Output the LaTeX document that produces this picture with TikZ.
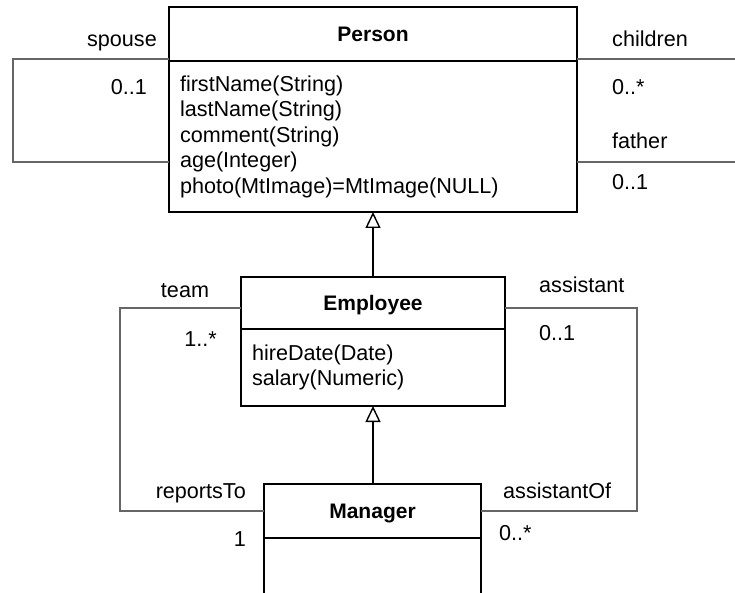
\documentclass[tikz,border=0pt]{standalone}
\usepackage{fontspec}
\setmainfont{Liberation Sans}
\usetikzlibrary{arrows.meta}

\tikzset{
  txt/.style={font=\fontsize{21.6}{25.5}\selectfont},
  classhead/.style={draw=black, line width=1.5pt, inner sep=0pt, outer sep=0pt,
    anchor=north west, font=\fontsize{21}{25.5}\selectfont\bfseries,
    text height=15pt, text depth=0pt},
  classbody/.style={draw=black, line width=1.5pt, inner ysep=0pt, inner xsep=11pt,
    outer sep=0pt, anchor=north west, align=left, txt},
  assoc/.style={draw=black!60, line width=1.3pt},
  gen/.style={draw=black, line width=1.6pt,
    -{Triangle[open, length=16pt, width=15pt, line width=1.4pt]}},
  lbl/.style={txt, inner sep=0pt}
}

\begin{document}
\begin{tikzpicture}[x=1pt, y=-1pt]
\useasboundingbox (0,0) rectangle (735,593);

% Person
\node[classhead, minimum width=408, minimum height=54] (phead) at (169,7) {Person};
\node[classbody, minimum width=408, minimum height=151, text width=386]
  (pbody) at (phead.south west)
  {firstName(String)\\lastName(String)\\comment(String)\\age(Integer)\\photo(MtImage)=MtImage(NULL)};

% Employee
\node[classhead, minimum width=264, minimum height=52] (ehead) at (241,277) {Employee};
\node[classbody, minimum width=264, minimum height=77, text width=242]
  (ebody) at (ehead.south west)
  {hireDate(Date)\\salary(Numeric)};

% Manager
\node[classhead, minimum width=217, minimum height=54] (mhead) at (264,484) {Manager};
\node[classbody, minimum width=217, minimum height=80, text width=195]
  (mbody) at (mhead.south west) {};

% generalizations
\draw[gen] (ehead.north) -- (ehead.north |- pbody.south);
\draw[gen] (ebody.south |- mhead.north) -- (ebody.south);

% spouse association (self loop)
\draw[assoc] ([yshift=2pt]pbody.north west) -- ++(-156,0) |- (pbody.west |- 0,162);
% children / father ends
\draw[assoc] ([yshift=2pt]pbody.north east) -- ++(170,0);
\draw[assoc] (pbody.east |- 0,162) -- ++(170,0);

% team / reportsTo
\draw[assoc] ([yshift=-5pt]ehead.west) -- ++(-121,0) |- (mhead.west);
% assistant / assistantOf
\draw[assoc] ([yshift=-5pt]ehead.east) -- ++(132,0) |- (mhead.east);

% role names and multiplicities
\node[lbl, anchor=base east] (lspouse) at (157,47) {spouse};
\node[lbl, anchor=base east] (lspm) at (147,95) {0..1};
\node[lbl, anchor=base west] (lchild) at (612,47) {children};
\node[lbl, anchor=base west] (lchm) at (612,95) {0..*};
\node[lbl, anchor=base west] (lfath) at (612,149) {father};
\node[lbl, anchor=base west] (lfam) at (612,190) {0..1};

\node[lbl, anchor=base] (lteam) at (185,298) {team};
\node[lbl, anchor=base east] (ltm) at (217,346) {1..*};
\node[lbl, anchor=base west] (lass) at (539,292) {assistant};
\node[lbl, anchor=base west] (lasm) at (539,340) {0..1};

\node[lbl, anchor=base east] (lrep) at (246,498) {reportsTo};
\node[lbl, anchor=base east] (lrepm) at (246,546) {1};
\node[lbl, anchor=base west] (lasof) at (503,498) {assistantOf};
\node[lbl, anchor=base west] (lasofm) at (499,540) {0..*};
\end{tikzpicture}
\end{document}
